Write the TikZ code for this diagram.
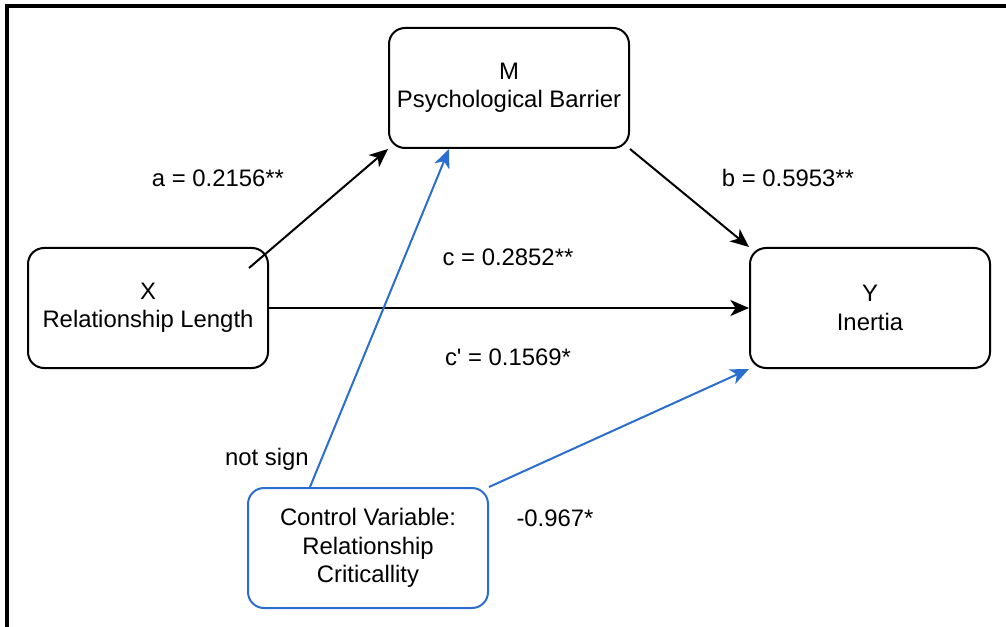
\documentclass[tikz,border=0pt]{standalone}
\usepackage{fontspec}
\setmainfont{Liberation Sans}
\usetikzlibrary{arrows.meta}
\definecolor{ctrlblue}{HTML}{2A6ED0}
\begin{document}
\begin{tikzpicture}[x=0.75pt,y=-0.75pt,
  txt/.style={font=\fontsize{17.9}{21.3}\selectfont, align=center, inner sep=0pt},
  varbox/.style={txt, draw, line width=1.5pt, rounded corners=12pt,
    minimum width=180pt, minimum height=90pt},
  ctrlbox/.style={varbox, draw=ctrlblue},
  path/.style={line width=1.5pt, -{Stealth[length=14pt,width=12pt,inset=4pt]}},
  ctrlpath/.style={path, draw=ctrlblue, color=ctrlblue},
  lbl/.style={txt}]
  \useasboundingbox (0,0) rectangle (1006,627);
  \begin{scope}
    \clip (0,0) rectangle (1006,627);
    \draw[line width=2.4pt] (7,6) rectangle (1030,650);
  \end{scope}

  % variables
  \node[varbox] (M) at (509,88) {M\\Psychological Barrier};
  \node[varbox] (X) at (148,308) {X\\Relationship Length};
  \node[varbox] (Y) at (870,308) {Y\\Inertia};
  \node[ctrlbox] (C) at (368,548) {Control Variable:\\Relationship\\Criticallity};

  % paths
  \draw[path] ([shift={(-20,-40)}]X.east) -- (M.south west);
  \draw[path] (M.south east) -- (Y.north west);
  \draw[path] (X.east) -- (Y.west);
  \draw[ctrlpath] ([shift={(-58,0)}]C.north) -- ([shift={(-60,0)}]M.south);
  \draw[ctrlpath] (C.north east) -- (Y.south west);

  % coefficients
  \node[lbl] (la) at (218,178) {a = 0.2156**};
  \node[lbl] (lb) at (788,178) {b = 0.5953**};
  \node[lbl] (lc) at (508,257) {c = 0.2852**};
  \node[lbl] (lcp) at (508,357) {c\textquotesingle{} = 0.1569*};
  \node[lbl] (lns) at (267,459) {not sign};
  \node[lbl] (lctrl) at (555,518) {-0.967*};
\end{tikzpicture}
\end{document}
